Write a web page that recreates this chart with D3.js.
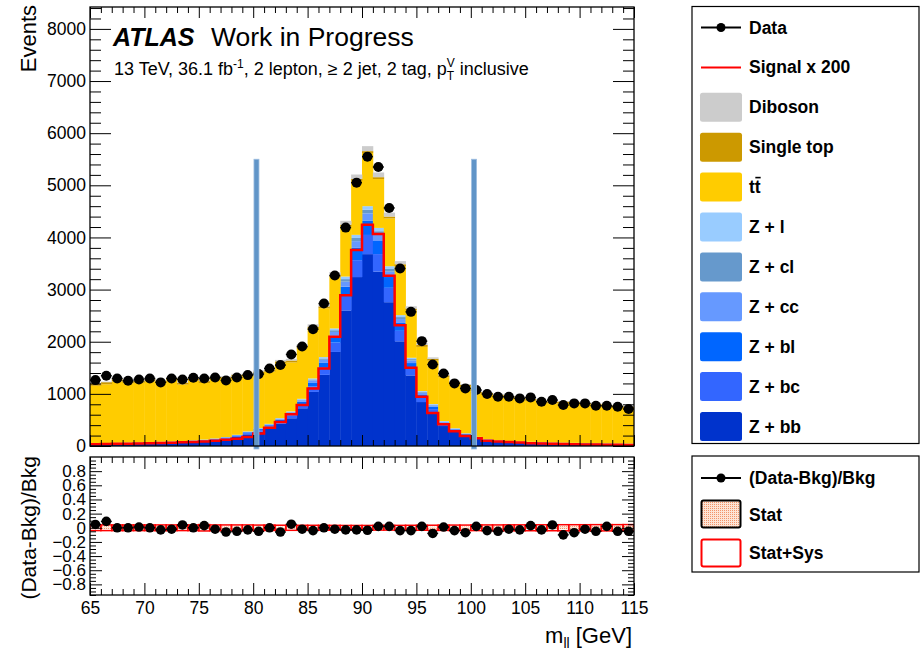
<!DOCTYPE html>
<html>
<head>
<meta charset="utf-8">
<script src="https://cdn.jsdelivr.net/npm/d3@7"></script>
<style>
  body { margin: 0; background: #fff; }
  svg { display: block; }
  text { font-family: "Liberation Sans", Arial, Helvetica, sans-serif; white-space: pre; }
</style>
</head>
<body>
<svg id="chart" width="920" height="651"></svg>
<script>
// ---- m_ll distribution, 1 GeV bins from 65 to 115 GeV ----
const binLow = d3.range(65, 115, 1);

const dataEvents = [1264,1347,1296,1251,1277,1296,1220,1296,1277,1309,1296,1315,1258,1315,1360,1379,1488,1552,1756,1910,
  2241,2733,3270,4189,5051,5550,5351,4566,3404,2573,2011,1564,1392,1201,1105,1073,996,945,945,913,
  932,849,881,785,817,817,773,773,754,709];

const zbb = [44,46,49,53,56,60,66,70,77,86,99,116,138,172,224,276,340,428,532,724,
  1037,1364,1804,2600,3240,3680,3346,2758,2008,1354,843,644,383,272,196,140,104,86,76,68,
  64,60,54,51,48,45,42,40,38,36];
const zbc = [4,5,5,5,6,6,6,7,8,9,10,12,14,17,22,28,34,43,53,72,
  104,136,180,260,324,368,335,276,201,135,84,64,38,27,20,14,10,9,8,7,
  6,6,5,5,5,4,4,4,4,4];
const zbl = [3,3,4,4,4,4,5,5,6,6,7,9,10,13,17,21,25,32,40,54,
  78,102,135,195,243,276,251,207,151,102,63,48,29,20,15,10,8,6,6,5,
  5,4,4,4,3,3,3,3,2,2];
const zcc = [2,2,2,2,2,3,3,3,3,3,4,4,5,7,9,10,13,16,20,27,
  39,51,68,97,122,138,125,103,75,51,32,24,14,10,7,5,4,3,3,3,
  2,2,2,2,2,2,1,1,1,1];
const zcl = [1,1,1,1,1,1,1,2,1,2,2,2,3,3,4,5,7,8,10,14,
  19,26,34,49,61,69,63,52,38,25,16,12,7,5,4,3,2,2,1,1,
  1,1,1,1,1,1,1,1,1,1];
const zl = [1,1,1,1,1,1,1,1,1,2,2,2,2,3,4,5,6,8,10,14,
  19,26,34,49,60,69,63,52,37,25,16,13,8,6,3,3,2,2,1,1,
  2,2,2,1,1,1,1,1,1,1];
const ttbar = [1100,1126,1177,1138,1142,1164,1127,1180,1082,1145,1084,1142,1112,1115,1066,1049,1002,1052,939,970,
  957,937,981,958,1036,1020,937,917,940,907,847,832,842,858,893,829,853,841,825,812,
  786,762,749,753,753,738,719,699,692,674];
const singleTop = [40,40,39,39,39,38,38,38,38,37,37,37,37,36,36,36,36,36,36,36,
  36,36,36,36,36,36,36,36,36,36,36,35,35,35,35,35,35,35,34,34,
  34,34,34,34,33,33,33,33,33,33];
const diboson = [12,12,12,12,13,13,13,14,14,15,15,16,17,18,20,22,25,28,32,38,
  45,55,65,75,85,95,90,75,60,45,35,28,22,18,15,13,12,11,10,10,
  10,9,9,9,9,8,8,8,8,8];
const signalX200 = [35,38,42,45,48,52,58,64,70,78,88,100,119,140,172,240,350,460,610,785,
  1105,1488,2095,2893,3760,4245,4065,3265,2318,1501,945,635,415,285,192,147,100,85,75,65,
  55,48,42,38,34,30,27,24,22,20];

// (Data-Bkg)/Bkg per bin and the relative uncertainty bands
const ratio = [0.047,0.09,0.0,0.0,0.01,0.0,-0.03,-0.02,0.04,0.0,0.03,-0.02,-0.06,-0.05,-0.03,-0.05,0.0,-0.06,0.05,-0.02,
  -0.04,0.0,-0.02,-0.03,-0.03,-0.035,0.02,0.02,-0.04,-0.04,0.02,-0.08,0.01,-0.04,-0.07,0.02,-0.04,-0.05,-0.02,-0.03,
  0.03,-0.03,0.04,-0.10,-0.07,-0.02,-0.05,0.02,-0.05,-0.05];
const statErr = [0.02,0.02,0.02,0.02,0.02,0.02,0.02,0.02,0.02,0.02,0.02,0.02,0.018,0.018,0.018,0.016,0.016,0.015,0.015,0.014,
  0.013,0.012,0.012,0.011,0.01,0.01,0.01,0.011,0.012,0.013,0.014,0.015,0.016,0.017,0.018,0.019,0.02,0.02,0.021,0.021,
  0.022,0.022,0.022,0.023,0.023,0.023,0.024,0.024,0.024,0.025];
const totErr = [0.04,0.04,0.04,0.04,0.04,0.04,0.04,0.04,0.04,0.04,0.045,0.04,0.04,0.04,0.04,0.038,0.038,0.036,0.036,0.035,
  0.035,0.034,0.034,0.033,0.033,0.033,0.033,0.033,0.034,0.035,0.035,0.036,0.037,0.038,0.038,0.04,0.04,0.04,0.041,0.041,
  0.042,0.042,0.042,0.043,0.043,0.043,0.044,0.044,0.044,0.045];

// vertical markers of the mass window
const windowEdges = [80.3, 100.3];
const windowTop = 5500;

// axis tick labels
const yTicksMain = [0,1000,2000,3000,4000,5000,6000,7000,8000];
const yTicksRatio = [-0.8,-0.6,-0.4,-0.2,0,0.2,0.4,0.6,0.8];
const xTicks = [65,70,75,80,85,90,95,100,105,110,115];

// stack order from bottom to top and legend names
const stackKeys = ['zbb','zbc','zbl','zcc','zcl','zl','ttbar','singleTop','diboson'];
const stackColors = {zbb:'#0033cc', zbc:'#3366ff', zbl:'#0066ff', zcc:'#6699ff', zcl:'#6699cc',
  zl:'#99ccff', ttbar:'#ffcc00', singleTop:'#cc9900', diboson:'#cccccc'};
const stackNames = {zbb:'Z + bb', zbc:'Z + bc', zbl:'Z + bl', zcc:'Z + cc', zcl:'Z + cl',
  zl:'Z + l', ttbar:'tt', singleTop:'Single top', diboson:'Diboson'};
const series = {zbb, zbc, zbl, zcc, zcl, zl, ttbar, singleTop, diboson};

// ---- layout ----
const svg = d3.select('#chart');
const mainBox = {l: 90, r: 634, t: 7, b: 446};
const ratioBox = {l: 90, r: 634, t: 457, b: 595};
const FONT = '"Liberation Sans", Arial, Helvetica, sans-serif';

const x = d3.scaleLinear().domain([65, 115]).range([mainBox.l, mainBox.r]);
const y = d3.scaleLinear().domain([0, 8420]).range([mainBox.b, mainBox.t]);
const yr = d3.scaleLinear().domain([-0.95, 1.0]).range([ratioBox.b, ratioBox.t]);

const defs = svg.append('defs');
defs.append('clipPath').attr('id', 'clipMain').append('rect')
  .attr('x', mainBox.l).attr('y', mainBox.t).attr('width', mainBox.r - mainBox.l).attr('height', mainBox.b - mainBox.t);
defs.append('clipPath').attr('id', 'clipRatio').append('rect')
  .attr('x', ratioBox.l).attr('y', ratioBox.t).attr('width', ratioBox.r - ratioBox.l).attr('height', ratioBox.b - ratioBox.t);
const pat = defs.append('pattern').attr('id', 'statPattern').attr('width', 2).attr('height', 2)
  .attr('patternUnits', 'userSpaceOnUse');
pat.append('rect').attr('width', 2).attr('height', 2).attr('fill', '#fde4d6');
pat.append('rect').attr('width', 1).attr('height', 1).attr('fill', '#f2946a');

// ---- stacked backgrounds ----
const rows = binLow.map((lo, i) => {
  const r = {lo, hi: lo + 1};
  stackKeys.forEach(k => { r[k] = series[k][i]; });
  return r;
});
const layers = d3.stack().keys(stackKeys)(rows);

const gMain = svg.append('g').attr('clip-path', 'url(#clipMain)');
layers.forEach(layer => {
  gMain.append('g').attr('fill', stackColors[layer.key])
    .selectAll('rect').data(layer).join('rect')
    .attr('x', d => x(d.data.lo))
    .attr('width', d => x(d.data.hi) - x(d.data.lo) + 0.4)
    .attr('y', d => y(d[1]))
    .attr('height', d => Math.max(0, y(d[0]) - y(d[1])));
});

// signal x 200 as a step histogram
const sigPts = binLow.map((lo, i) => [lo, signalX200[i]]);
sigPts.push([115, signalX200[signalX200.length - 1]]);
gMain.append('path')
  .attr('d', d3.line().x(d => x(d[0])).y(d => y(d[1])).curve(d3.curveStepAfter)(sigPts))
  .attr('fill', 'none').attr('stroke', '#ff0000').attr('stroke-width', 2.5);

// data points
const gData = gMain.append('g');
gData.selectAll('line').data(binLow).join('line')
  .attr('x1', d => x(d)).attr('x2', d => x(d + 1))
  .attr('y1', (d, i) => y(dataEvents[i])).attr('y2', (d, i) => y(dataEvents[i]))
  .attr('stroke', '#000').attr('stroke-width', 1.5);
gData.selectAll('circle').data(binLow).join('circle')
  .attr('cx', d => x(d + 0.5)).attr('cy', (d, i) => y(dataEvents[i])).attr('r', 5).attr('fill', '#000');

// mass window markers
svg.append('g').selectAll('rect').data(windowEdges).join('rect')
  .attr('x', d => x(d) - 2.5).attr('width', 5)
  .attr('y', y(windowTop)).attr('height', y(0) - y(windowTop) + 3)
  .attr('fill', '#6195c8').attr('stroke', '#9dbde0').attr('stroke-width', 0.8);

// ---- ratio panel ----
const gRatio = svg.append('g').attr('clip-path', 'url(#clipRatio)');
gRatio.append('g').selectAll('rect').data(binLow).join('rect')
  .attr('x', d => x(d)).attr('width', d => x(d + 1) - x(d))
  .attr('y', (d, i) => yr(statErr[i])).attr('height', (d, i) => yr(-statErr[i]) - yr(statErr[i]))
  .attr('fill', 'url(#statPattern)');
gRatio.append('g').selectAll('rect').data(binLow).join('rect')
  .attr('x', d => x(d)).attr('width', d => x(d + 1) - x(d))
  .attr('y', (d, i) => yr(totErr[i])).attr('height', (d, i) => yr(-totErr[i]) - yr(totErr[i]))
  .attr('fill', 'none').attr('stroke', '#ff0000').attr('stroke-width', 1.5);
gRatio.append('g').selectAll('line').data(binLow).join('line')
  .attr('x1', d => x(d)).attr('x2', d => x(d + 1))
  .attr('y1', (d, i) => yr(ratio[i])).attr('y2', (d, i) => yr(ratio[i]))
  .attr('stroke', '#000').attr('stroke-width', 1.5);
gRatio.append('g').selectAll('circle').data(binLow).join('circle')
  .attr('cx', d => x(d + 0.5)).attr('cy', (d, i) => yr(ratio[i])).attr('r', 4.8).attr('fill', '#000');

// ---- axes (ticks drawn inward on all four sides) ----
function withoutDomain(g) { g.select('.domain').remove(); g.attr('font-family', FONT); }
const yMinorMain = d3.range(0, 8420, 200).filter(v => v % 1000 !== 0);
const xMinor = d3.range(65, 116, 1).filter(v => v % 5 !== 0);
const yMinorRatio = d3.range(-0.95, 1.0001, 0.05).map(v => +v.toFixed(2))
  .filter(v => Math.abs(Math.round(v * 5) - v * 5) > 1e-6);

function frameAxes(box, ys, yMajor, yMinor, yLen, xLen, yFmt, yFont, showX) {
  const g = svg.append('g');
  g.append('g').attr('transform', `translate(${box.l},0)`)
    .call(d3.axisLeft(ys).tickValues(yMajor).tickSize(-yLen[0]).tickPadding(4).tickFormat(yFmt))
    .call(withoutDomain).attr('font-size', yFont);
  g.append('g').attr('transform', `translate(${box.l},0)`)
    .call(d3.axisLeft(ys).tickValues(yMinor).tickSize(-yLen[1]).tickFormat('')).call(withoutDomain);
  g.append('g').attr('transform', `translate(${box.r},0)`)
    .call(d3.axisRight(ys).tickValues(yMajor).tickSize(-yLen[0]).tickFormat('')).call(withoutDomain);
  g.append('g').attr('transform', `translate(${box.r},0)`)
    .call(d3.axisRight(ys).tickValues(yMinor).tickSize(-yLen[1]).tickFormat('')).call(withoutDomain);
  g.append('g').attr('transform', `translate(0,${box.b})`)
    .call(d3.axisBottom(x).tickValues(xTicks).tickSize(-xLen[0]).tickPadding(7)
      .tickFormat(showX ? d3.format('d') : ''))
    .call(withoutDomain).attr('font-size', 17.5);
  g.append('g').attr('transform', `translate(0,${box.b})`)
    .call(d3.axisBottom(x).tickValues(xMinor).tickSize(-xLen[1]).tickFormat('')).call(withoutDomain);
  g.append('g').attr('transform', `translate(0,${box.t})`)
    .call(d3.axisTop(x).tickValues(xTicks).tickSize(-xLen[0]).tickFormat('')).call(withoutDomain);
  g.append('g').attr('transform', `translate(0,${box.t})`)
    .call(d3.axisTop(x).tickValues(xMinor).tickSize(-xLen[1]).tickFormat('')).call(withoutDomain);
  g.selectAll('.tick text').attr('fill', '#000');
  g.append('rect').attr('x', box.l).attr('y', box.t).attr('width', box.r - box.l).attr('height', box.b - box.t)
    .attr('fill', 'none').attr('stroke', '#000').attr('stroke-width', 1.3);
  return g;
}
frameAxes(mainBox, y, yTicksMain, yMinorMain, [21, 11], [11, 6], d3.format('d'), 17.5, false);
frameAxes(ratioBox, yr, yTicksRatio, yMinorRatio, [12, 6], [12, 6],
  d => (d === 0 ? '0' : d3.format('.1f')(d)), 17, true);

// ---- text helpers ----
function richText(parent, x0, y0, parts, base) {
  let cx = x0;
  parts.forEach(p => {
    if (p.stack) {
      const a = parent.append('text').attr('x', cx).attr('y', y0 + p.supDy).attr('font-size', p.size).text(p.sup);
      const b = parent.append('text').attr('x', cx).attr('y', y0 + p.subDy).attr('font-size', p.size).text(p.sub);
      cx += Math.max(a.node().getComputedTextLength(), b.node().getComputedTextLength());
    } else {
      const t = parent.append('text').attr('x', cx).attr('y', y0 + (p.dy || 0))
        .attr('font-size', p.size || base)
        .attr('font-weight', p.weight || null).attr('font-style', p.style || null).text(p.t);
      cx += t.node().getComputedTextLength();
    }
  });
  return cx - x0;
}

// ATLAS label
svg.append('text').attr('x', 113).attr('y', 46).attr('font-size', 25)
  .attr('font-weight', 'bold').attr('font-style', 'italic').text('ATLAS');
svg.append('text').attr('x', 211).attr('y', 46).attr('font-size', 26.5).text('Work in Progress');
richText(svg.append('g'), 114, 75, [
  {t: '13 TeV, 36.1 fb'}, {t: '-1', size: 12, dy: -7},
  {t: ', 2 lepton, \u2265 2 jet, 2 tag, p'},
  {stack: true, sup: 'V', sub: 'T', size: 12, supDy: -8, subDy: 5},
  {t: ' inclusive'}
], 18);

// axis titles
svg.append('text').attr('transform', 'translate(36,5) rotate(-90)').attr('text-anchor', 'end')
  .attr('font-size', 22).text('Events');
svg.append('text').attr('transform', 'translate(36,456) rotate(-90)').attr('text-anchor', 'end')
  .attr('font-size', 21).text('(Data-Bkg)/Bkg');
const xTitle = svg.append('g');
const xTitleW = richText(xTitle, 0, 643, [{t: 'm'}, {t: 'll', size: 14, dy: 5}, {t: ' [GeV]'}], 22);
xTitle.attr('transform', `translate(${632 - xTitleW},0)`);

// ---- legends ----
const legMain = svg.append('g').attr('font-weight', 'bold');
legMain.append('rect').attr('x', 692).attr('y', 6.5).attr('width', 227).attr('height', 437)
  .attr('fill', '#fff').attr('stroke', '#000').attr('stroke-width', 1.2);
const legendRows = ['data', 'signal', 'diboson', 'singleTop', 'ttbar', 'zl', 'zcl', 'zcc', 'zbl', 'zbc', 'zbb'];
legendRows.forEach((key, i) => {
  const cy = 27.5 + i * 39.9;
  if (key === 'data') {
    legMain.append('line').attr('x1', 701).attr('x2', 741).attr('y1', cy).attr('y2', cy)
      .attr('stroke', '#000').attr('stroke-width', 2);
    legMain.append('circle').attr('cx', 721).attr('cy', cy).attr('r', 4.5).attr('fill', '#000');
    legMain.append('text').attr('x', 749).attr('y', cy + 6).attr('font-size', 17.5).text('Data');
  } else if (key === 'signal') {
    legMain.append('line').attr('x1', 701).attr('x2', 741).attr('y1', cy).attr('y2', cy)
      .attr('stroke', '#ff0000').attr('stroke-width', 2);
    legMain.append('text').attr('x', 749).attr('y', cy + 6).attr('font-size', 17.5).text('Signal x 200');
  } else {
    legMain.append('rect').attr('x', 700).attr('y', cy - 14.5).attr('width', 42).attr('height', 29).attr('rx', 2.5)
      .attr('fill', stackColors[key]);
    const t = legMain.append('text').attr('x', 749).attr('y', cy + 6).attr('font-size', 17.5).text(stackNames[key]);
    if (key === 'ttbar') {
      const w1 = t.node().getSubStringLength(0, 1);
      const w2 = t.node().getSubStringLength(1, 1);
      legMain.append('line').attr('x1', 749 + w1 + 0.5).attr('x2', 749 + w1 + w2)
        .attr('y1', cy - 9.5).attr('y2', cy - 9.5).attr('stroke', '#000').attr('stroke-width', 1.6);
    }
  }
});

const legRatio = svg.append('g').attr('font-weight', 'bold');
legRatio.append('rect').attr('x', 692).attr('y', 456).attr('width', 227).attr('height', 116)
  .attr('fill', '#fff').attr('stroke', '#000').attr('stroke-width', 1.2);
legRatio.append('line').attr('x1', 701).attr('x2', 741).attr('y1', 478).attr('y2', 478)
  .attr('stroke', '#000').attr('stroke-width', 2);
legRatio.append('circle').attr('cx', 721).attr('cy', 478).attr('r', 4.5).attr('fill', '#000');
legRatio.append('text').attr('x', 749).attr('y', 484).attr('font-size', 17.5).text('(Data-Bkg)/Bkg');
legRatio.append('rect').attr('x', 701.5).attr('y', 500.5).attr('width', 39).attr('height', 27).attr('rx', 2)
  .attr('fill', 'url(#statPattern)').attr('stroke', '#000').attr('stroke-width', 2);
legRatio.append('text').attr('x', 749).attr('y', 521).attr('font-size', 17.5).text('Stat');
legRatio.append('rect').attr('x', 701.5).attr('y', 539.5).attr('width', 39).attr('height', 27).attr('rx', 2)
  .attr('fill', '#fff').attr('stroke', '#ff0000').attr('stroke-width', 2);
legRatio.append('text').attr('x', 749).attr('y', 559).attr('font-size', 17.5).text('Stat+Sys');
</script>
</body>
</html>
